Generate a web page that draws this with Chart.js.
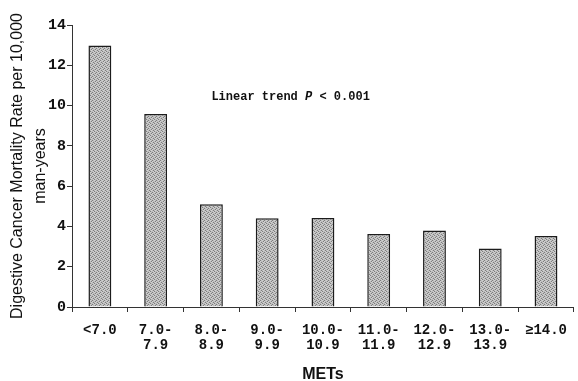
<!DOCTYPE html>
<html>
<head>
<meta charset="utf-8">
<script src="https://cdn.jsdelivr.net/npm/chart.js@4"></script>
<style>
  html, body { margin: 0; padding: 0; background: #fff; }
  #wrap { width: 578px; height: 381px; }
</style>
</head>
<body>
<div id="wrap"><canvas id="metsChart" width="578" height="381"></canvas></div>
<script>
// MET categories and digestive cancer mortality rates (per 10,000 man-years)
const categories = [
  ["<7.0"], ["7.0-", "7.9"], ["8.0-", "8.9"], ["9.0-", "9.9"], ["10.0-", "10.9"],
  ["11.0-", "11.9"], ["12.0-", "12.9"], ["13.0-", "13.9"], ["\u226514.0"]
];
const rates = [12.98, 9.58, 5.1, 4.4, 4.42, 3.62, 3.8, 2.9, 3.52];
const yTicks = [0, 2, 4, 6, 8, 10, 12, 14];

const mono = "'Liberation Mono', 'Courier New', monospace";
const sans = "'Liberation Sans', Arial, sans-serif";

// stippled grey fill like the printed figure
function stipple() {
  const c = document.createElement("canvas");
  c.width = 4;
  c.height = 4;
  const g = c.getContext("2d");
  g.fillStyle = "#bdbdbd";
  g.fillRect(0, 0, 4, 4);
  g.fillStyle = "#7e7e7e";
  [[0, 0], [3, 1], [1, 2], [2, 3]].forEach(([x, y]) => g.fillRect(x, y, 1, 1));
  g.fillStyle = "#d2d2d2";
  [[2, 0], [0, 1], [3, 2], [1, 3]].forEach(([x, y]) => g.fillRect(x, y, 1, 1));
  return g.createPattern(c, "repeat");
}

const trendNote = {
  id: "trendNote",
  afterDraw(chart) {
    const ctx = chart.ctx;
    const x0 = chart.scales.x.getPixelForValue(2);
    const y0 = chart.scales.y.getPixelForValue(10.45);
    const parts = [
      ["Linear trend ", "bold"],
      ["P", "italic bold"],
      [" < 0.001", "bold"],
    ];
    ctx.save();
    ctx.fillStyle = "#111";
    ctx.textBaseline = "middle";
    let x = x0;
    parts.forEach(([txt, style]) => {
      ctx.font = style + " 12px " + mono;
      ctx.fillText(txt, x, y0);
      x += ctx.measureText(txt).width;
    });
    ctx.restore();
  },
};

new Chart(document.getElementById("metsChart"), {
  type: "bar",
  data: {
    labels: categories,
    datasets: [
      {
        data: rates,
        backgroundColor: stipple(),
        borderColor: "#1c1c1c",
        borderWidth: 1.5,
        borderSkipped: "bottom",
        categoryPercentage: 1,
        barPercentage: 0.41,
      },
    ],
  },
  options: {
    responsive: false,
    animation: false,
    events: [],
    layout: { padding: { top: 25, right: 0, bottom: 0, left: 0 } },
    plugins: {
      legend: { display: false },
      tooltip: { enabled: false },
    },
    scales: {
      x: {
        afterFit: (s) => { s.height = 74; },
        grid: {
          offset: true,
          drawOnChartArea: false,
          tickLength: 5,
          color: "#333",
        },
        border: { color: "#333", width: 1 },
        ticks: {
          color: "#111",
          padding: 11,
          maxRotation: 0,
          autoSkip: false,
          font: { family: mono, size: 14, weight: "bold", lineHeight: 1.05 },
        },
        title: {
          display: true,
          text: "METs",
          color: "#111",
          padding: { top: 0, bottom: 0 },
          font: { family: sans, size: 16, weight: "bold", lineHeight: 0.85 },
        },
      },
      y: {
        min: 0,
        max: 14,
        afterFit: (s) => { s.width = 72; },
        afterBuildTicks: (s) => { s.ticks = yTicks.map((v) => ({ value: v })); },
        grid: {
          drawOnChartArea: false,
          tickLength: 5,
          color: "#333",
        },
        border: { color: "#333", width: 1 },
        ticks: {
          color: "#111",
          padding: 1,
          font: { family: mono, size: 15, weight: "bold" },
        },
        title: {
          display: true,
          text: ["Digestive Cancer Mortality Rate per 10,000", "man-years"],
          color: "#111",
          padding: { top: 6, bottom: 0 },
          font: { family: sans, size: 16, lineHeight: 1.45 },
        },
      },
    },
  },
  plugins: [trendNote],
});
</script>
</body>
</html>
